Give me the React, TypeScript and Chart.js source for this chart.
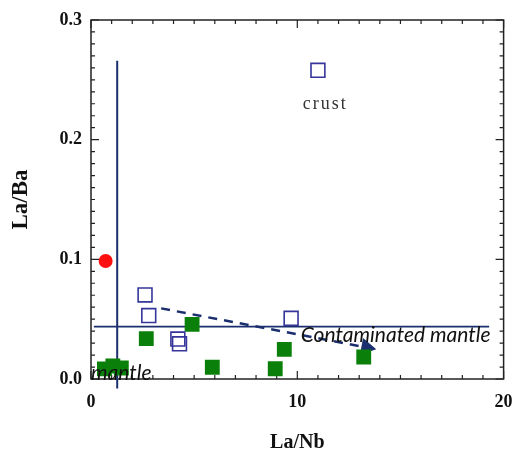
import React, { useEffect, useRef } from "react";
import { Chart, registerables } from "chart.js";

Chart.register(...registerables);

// Data
const redX = [0.71];
const redY = [0.0986];

const openX = [11.0, 2.62, 2.8, 9.7, 4.21, 4.29];
const openY = [0.258, 0.0702, 0.053, 0.0507, 0.0334, 0.0294];

const greenX = [0.65, 1.06, 1.47, 2.68, 4.9, 5.88, 8.93, 9.37, 13.22];
const greenY = [0.0084, 0.0109, 0.0092, 0.0338, 0.0457, 0.0098, 0.0086, 0.0248, 0.0184];

const vLineX = [1.27, 1.27];
const vLineY = [-0.008, 0.266];

const hLineX = [0.14, 19.3];
const hLineY = [0.0437, 0.0437];

const trendX = [3.4, 13.35];
const trendY = [0.059, 0.0264];

const xTicks = [0, 10, 20];
const yTicks = [0, 0.1, 0.2, 0.3];

const labels = [
  { text: "crust", x: 11.36, y: 0.2295 },
  { text: "Contaminated mantle", x: 10.17, y: 0.0368 },
  { text: "mantle", x: 0.0, y: 0.0048 },
];

const pts = (xs: number[], ys: number[]) => xs.map((x, i) => ({ x, y: ys[i] }));

const NAVY = "#1b2f6e";

const framePlugin = {
  id: "frame",
  beforeDatasetsDraw(chart: any) {
    const { ctx, chartArea: a, scales } = chart;
    const xs = scales.x;
    const ys = scales.y;
    ctx.save();
    ctx.strokeStyle = "#222";
    ctx.lineWidth = 1.5;
    ctx.strokeRect(a.left, a.top, a.right - a.left, a.bottom - a.top);
    ctx.lineWidth = 1.2;
    ctx.beginPath();
    for (let v = 0; v <= 20; v += 1) {
      const px = xs.getPixelForValue(v);
      const len = v % 10 === 0 ? 8 : 4;
      ctx.moveTo(px, a.bottom);
      ctx.lineTo(px, a.bottom - len);
      ctx.moveTo(px, a.top);
      ctx.lineTo(px, a.top + len);
    }
    for (let i = 0; i <= 30; i++) {
      const v = i / 100;
      const py = ys.getPixelForValue(v);
      const len = i % 10 === 0 ? 8 : 4;
      ctx.moveTo(a.left, py);
      ctx.lineTo(a.left + len, py);
      ctx.moveTo(a.right, py);
      ctx.lineTo(a.right - len, py);
    }
    ctx.stroke();
    ctx.restore();
  },
  afterDatasetsDraw(chart: any) {
    const { ctx, scales } = chart;
    const xs = scales.x;
    const ys = scales.y;
    ctx.save();
    ctx.textBaseline = "middle";
    // crust
    const c = labels[0];
    ctx.font = "18px 'Liberation Serif'";
    (ctx as any).letterSpacing = "2px";
    ctx.textAlign = "center";
    ctx.fillStyle = "#333";
    ctx.fillText(c.text, xs.getPixelForValue(c.x), ys.getPixelForValue(c.y));
    (ctx as any).letterSpacing = "0px";
    ctx.fillStyle = "#111";
    ctx.textAlign = "left";
    ctx.font = "italic 21px Lato";
    for (let i = 1; i < labels.length; i++) {
      const l = labels[i];
      ctx.fillText(l.text, xs.getPixelForValue(l.x), ys.getPixelForValue(l.y));
    }
    ctx.restore();
  },
};

export default function App() {
  const ref = useRef<HTMLCanvasElement>(null);
  useEffect(() => {
    if (!ref.current) return;
    const chart = new Chart(ref.current, {
      type: "scatter",
      data: {
        datasets: [
          {
            data: pts(redX, redY),
            pointStyle: "circle",
            pointRadius: 7,
            backgroundColor: "#ff1010",
            borderColor: "#ff1010",
            borderWidth: 0,
          },
          {
            data: pts(openX, openY),
            pointStyle: "rect",
            pointRadius: 9.8,
            backgroundColor: "rgba(0,0,0,0)",
            borderColor: "#35359a",
            borderWidth: 1.6,
          },
          {
            data: pts(greenX, greenY),
            pointStyle: "rect",
            pointRadius: 10.5,
            backgroundColor: "#0a800a",
            borderColor: "#0a800a",
            borderWidth: 0,
          },
          {
            data: pts(vLineX, vLineY),
            showLine: true,
            borderColor: NAVY,
            borderWidth: 2,
            pointRadius: 0,
            clip: false,
          } as any,
          {
            data: pts(hLineX, hLineY),
            showLine: true,
            borderColor: NAVY,
            borderWidth: 1.8,
            pointRadius: 0,
          },
          {
            data: pts(trendX, trendY),
            showLine: true,
            borderColor: NAVY,
            borderWidth: 2.5,
            borderDash: [9, 7],
            pointStyle: ["line", "triangle"] as any,
            pointRadius: [0, 10],
            pointRotation: [0, 100.6],
            backgroundColor: NAVY,
            pointBorderColor: NAVY,
            pointBorderWidth: 0,
          } as any,
        ],
      },
      options: {
        responsive: false,
        animation: false,
        events: [],
        layout: { padding: { top: 20, right: 7, left: 0, bottom: 0 } },
        plugins: { legend: { display: false }, tooltip: { enabled: false } },
        scales: {
          x: {
            type: "linear",
            min: 0,
            max: 20,
            afterBuildTicks: (s: any) => {
              s.ticks = xTicks.map((v) => ({ value: v }));
            },
            afterFit: (s: any) => {
              s.height = 74;
              s.paddingLeft = 0;
              s.paddingRight = 0;
            },
            grid: { display: false, drawTicks: false },
            border: { display: false },
            ticks: {
              color: "#111",
              padding: 13,
              font: { family: "'Liberation Serif'", size: 18, weight: "bold" },
              callback: (v: any) => String(v),
            },
            title: {
              display: true,
              text: "La/Nb",
              color: "#111",
              padding: 0,
              font: { family: "'Liberation Serif'", size: 20, weight: "bold", lineHeight: 1 },
            },
          },
          y: {
            type: "linear",
            min: 0,
            max: 0.3,
            afterBuildTicks: (s: any) => {
              s.ticks = yTicks.map((v) => ({ value: v }));
            },
            afterFit: (s: any) => {
              s.width = 91;
              s.paddingTop = 0;
              s.paddingBottom = 0;
            },
            grid: { display: false, drawTicks: false },
            border: { display: false },
            ticks: {
              color: "#111",
              padding: 9,
              font: { family: "'Liberation Serif'", size: 18, weight: "bold" },
              callback: (v: any) => Number(v).toFixed(1),
            },
            title: {
              display: true,
              text: "La/Ba",
              color: "#111",
              padding: { top: 7, bottom: 0 },
              font: { family: "'Liberation Serif'", size: 23, weight: "bold", lineHeight: 1.2 },
            },
          },
        },
      },
      plugins: [framePlugin],
    });
    return () => chart.destroy();
  }, []);
  return (
    <div style={{ position: "absolute", left: 0, top: 0, width: 515, height: 453, background: "#fff" }}>
      <canvas ref={ref} width={515} height={453} style={{ display: "block" }} />
    </div>
  );
}
